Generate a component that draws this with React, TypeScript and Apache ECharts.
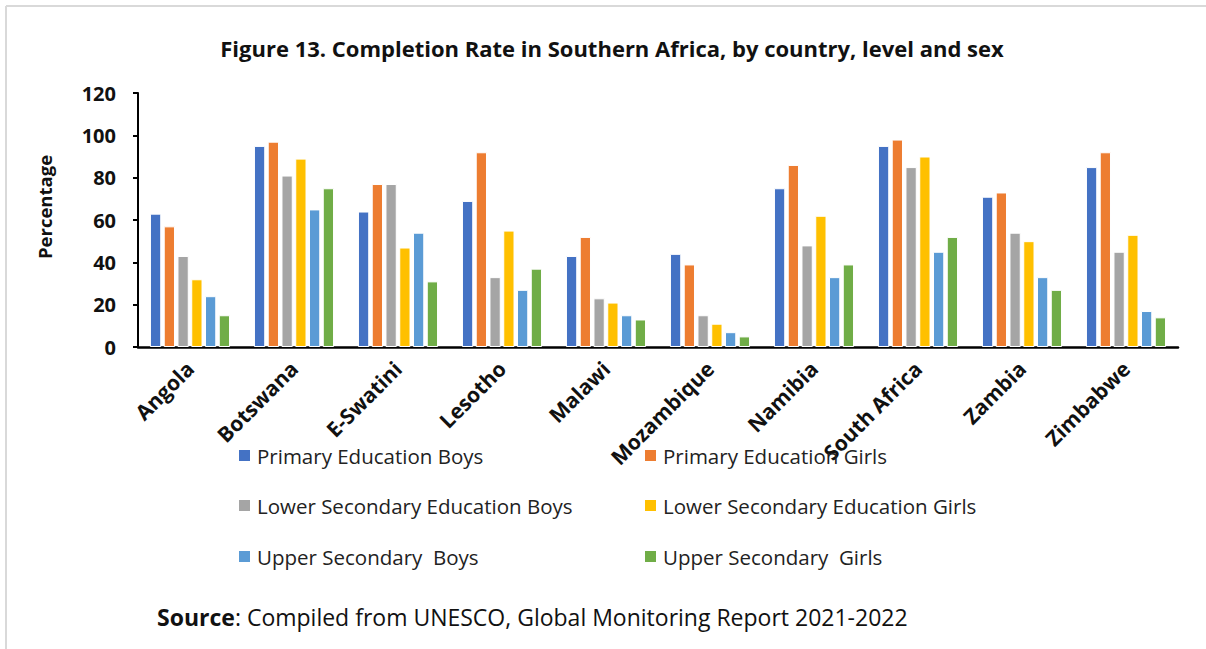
import React, { useEffect, useRef } from "react";
import * as echarts from "echarts";

// Countries on the category axis
const countries = [
  "Angola",
  "Botswana",
  "E-Swatini",
  "Lesotho",
  "Malawi",
  "Mozambique",
  "Namibia",
  "South Africa",
  "Zambia",
  "Zimbabwe",
];

// Completion rates (%) per country, same order as countries
const primaryBoys = [63, 95, 64, 69, 43, 44, 75, 95, 71, 85];
const primaryGirls = [57, 97, 77, 92, 52, 39, 86, 98, 73, 92];
const lowerSecBoys = [43, 81, 77, 33, 23, 15, 48, 85, 54, 45];
const lowerSecGirls = [32, 89, 47, 55, 21, 11, 62, 90, 50, 53];
const upperSecBoys = [24, 65, 54, 27, 15, 7, 33, 45, 33, 17];
const upperSecGirls = [15, 75, 31, 37, 13, 5, 39, 52, 27, 14];

const seriesNames = [
  "Primary Education Boys",
  "Primary Education Girls",
  "Lower Secondary Education Boys",
  "Lower Secondary Education Girls",
  "Upper Secondary  Boys",
  "Upper Secondary  Girls",
];
const seriesValues = [
  primaryBoys,
  primaryGirls,
  lowerSecBoys,
  lowerSecGirls,
  upperSecBoys,
  upperSecGirls,
];
const seriesColors = ["#4472C4", "#ED7D31", "#A5A5A5", "#FFC000", "#5B9BD5", "#70AD47"];

// Legend placement: two columns, three rows
const legendCols = [237, 643];
const legendRows = [445, 495, 546];

const FONT = "'Open Sans', 'Noto Sans', sans-serif";

export default function App() {
  const ref = useRef<HTMLDivElement>(null);

  useEffect(() => {
    if (!ref.current) return;
    const chart = echarts.init(ref.current, undefined, { renderer: "svg" });

    const legends = seriesNames.map((name, i) => ({
      show: true,
      left: legendCols[i % 2],
      top: legendRows[Math.floor(i / 2)],
      orient: "horizontal",
      icon: "rect",
      itemWidth: 13,
      itemHeight: 13,
      padding: 0,
      data: [name],
      selectedMode: false,
      textStyle: {
        fontFamily: FONT,
        fontSize: 20.5,
        color: "#222",
        padding: [0, 0, 0, 1],
      },
    }));

    chart.setOption({
      animation: false,
      backgroundColor: "#ffffff",
      textStyle: { fontFamily: FONT },
      title: {
        text: "Figure 13. Completion Rate in Southern Africa, by country, level and sex",
        left: 607,
        textAlign: "center",
        top: 32,
        textStyle: {
          fontFamily: FONT,
          fontSize: 22,
          fontWeight: "bold",
          color: "#111",
        },
      },
      legend: legends,
      grid: {
        left: 138,
        right: 28,
        top: 93,
        bottom: 302,
        containLabel: false,
      },
      xAxis: {
        type: "category",
        data: countries,
        axisLine: { show: true, lineStyle: { color: "#000", width: 2.5 } },
        axisTick: { show: false },
        axisLabel: {
          rotate: 45,
          interval: 0,
          margin: 18,
          fontFamily: FONT,
          fontSize: 21,
          fontWeight: "bold",
          color: "#111",
        },
      },
      yAxis: {
        type: "value",
        min: 0,
        max: 120,
        interval: 20,
        name: "Percentage",
        nameLocation: "middle",
        nameGap: 84,
        nameRotate: 90,
        nameTextStyle: {
          fontFamily: FONT,
          fontSize: 18.5,
          fontWeight: "bold",
          color: "#111",
          padding: [0, 0, 0, 26],
        },
        axisLine: { show: true, lineStyle: { color: "#000", width: 2 } },
        axisTick: { show: true, length: 5, lineStyle: { color: "#000", width: 2 } },
        splitLine: { show: false },
        axisLabel: {
          margin: 22,
          fontFamily: FONT,
          fontSize: 20,
          fontWeight: "bold",
          color: "#111",
        },
      },
      series: seriesNames.map((name, i) => ({
        name,
        type: "bar",
        data: seriesValues[i],
        barGap: "22%",
        barCategoryGap: "23%",
        itemStyle: {
          color: seriesColors[i],
          borderColor: "#ffffff",
          borderWidth: 1,
        },
      })),
      graphic: [
        // frame lines along the top and left edges
        {
          type: "line",
          shape: { x1: 6, y1: 6, x2: 1206, y2: 6 },
          style: { stroke: "#d9d9d9", lineWidth: 2 },
        },
        {
          type: "line",
          shape: { x1: 6, y1: 6, x2: 6, y2: 649 },
          style: { stroke: "#d9d9d9", lineWidth: 2 },
        },
        {
          type: "text",
          left: 157,
          top: 605,
          style: {
            text: "{b|Source}: Compiled from UNESCO, Global Monitoring Report 2021-2022",
            fontFamily: FONT,
            fontSize: 23,
            fill: "#111",
            rich: {
              b: { fontFamily: FONT, fontSize: 23, fontWeight: "bold", fill: "#111" },
            },
          },
        },
      ],
    });

    return () => {
      chart.dispose();
    };
  }, []);

  return (
    <div
      ref={ref}
      style={{ position: "fixed", left: 0, top: 0, width: 1206, height: 649, background: "#fff" }}
    />
  );
}
